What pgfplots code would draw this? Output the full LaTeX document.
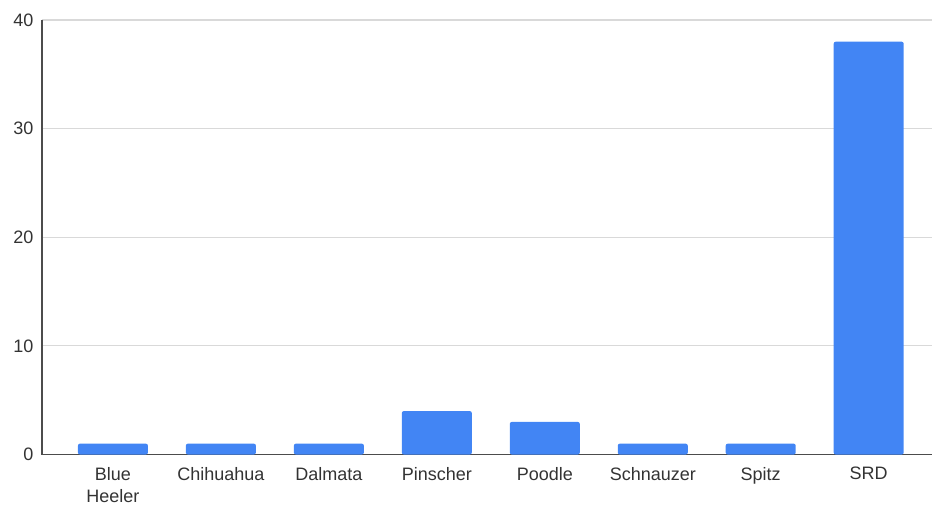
\documentclass[border=0pt]{standalone}
\usepackage{pgfplots}
\pgfplotsset{compat=1.18}
\usepackage{fontspec}
\setmainfont{Liberation Sans}
\definecolor{barblue}{HTML}{4285F4}
\definecolor{txt}{HTML}{333333}
\begin{document}
\begin{tikzpicture}
\begin{axis}[
  scale only axis,
  width=668pt, height=326pt,
  ymin=0, ymax=40,
  xmin=-0.657, xmax=7.59,
  ytick={0,10,20,30,40},
  xtick=data,
  xticklabels={{Blue\\Heeler},Chihuahua,Dalmata,Pinscher,Poodle,Schnauzer,Spitz,SRD},
  xticklabel style={align=center, text=txt, font=\fontsize{13.5}{17}\selectfont, yshift=-6pt},
  yticklabel style={text=txt, font=\fontsize{13.5}{14}\selectfont, xshift=-3pt},
  /pgf/number format/assume math mode=true,
  major tick length=0pt,
  ymajorgrids,
  grid style={draw=black!15, line width=0.8pt},
  axis x line*=bottom,
  axis y line*=left,
  axis line style={draw=black!70, line width=0.9pt},
  axis line style={-},
  ybar, bar width=52.5pt,
  enlargelimits=false,
  clip=false,
]
\addplot[fill=barblue, draw=none, rounded corners=1.5pt] coordinates {
(0,1) (1,1) (2,1) (3,4) (4,3) (5,1) (6,1) (7,38)
};
\end{axis}
\path (current axis.south west) ++(-31.5pt,-40.5pt) coordinate (bl);
\path (current axis.north east) ++(0pt,15pt) coordinate (tr);
\useasboundingbox (bl) rectangle (tr);
\end{tikzpicture}
\end{document}
